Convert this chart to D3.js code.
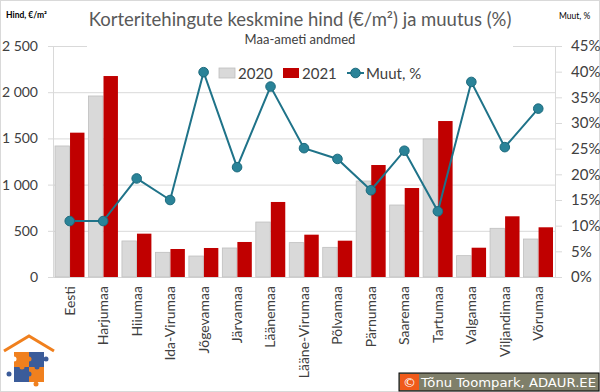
<!DOCTYPE html>
<html>
<head>
<meta charset="utf-8">
<title>Korteritehingute keskmine hind</title>
<style>
  body { margin: 0; background: #fff; }
  svg text { font-family: Lato, "Open Sans", sans-serif; }
</style>
</head>
<body>
<svg width="600" height="392"></svg>
<script src="https://d3js.org/d3.v7.min.js"></script>
<script>
var categories = ["Eesti", "Harjumaa", "Hiiumaa", "Ida-Virumaa", "Jõgevamaa", "Järvamaa", "Läänemaa",
  "Lääne-Virumaa", "Põlvamaa", "Pärnumaa", "Saaremaa", "Tartumaa", "Valgamaa", "Viljandimaa", "Võrumaa"];
var price2020 = [1418, 1959, 390, 267, 227, 314, 595, 372, 321, 1039, 779, 1494, 231, 527, 411];
var price2021 = [1562, 2175, 469, 303, 314, 379, 812, 458, 393, 1212, 963, 1688, 317, 657, 538];
var change = [10.9, 10.9, 19.2, 15.0, 39.9, 21.4, 37.1, 25.1, 23.0, 16.9, 24.6, 12.8, 38.0, 25.3, 32.8];
var leftTicks = [0, 500, 1000, 1500, 2000, 2500];
var rightTicks = [0, 5, 10, 15, 20, 25, 30, 35, 40, 45];

var svg = d3.select("svg"),
    width = +svg.attr("width"),
    height = +svg.attr("height");

var pLeft = 53, pRight = 555, pTop = 46, pBottom = 277;

var x = d3.scaleBand().domain(categories).range([pLeft, pRight]);
var x1 = d3.scaleBand().domain(["2020", "2021"]).range([2, x.bandwidth() - 2]).paddingInner(0.04);
var y = d3.scaleLinear().domain([0, 2500]).range([pBottom, pTop]);
var y2 = d3.scaleLinear().domain([0, 45]).range([pBottom, pTop]);

// outer frame
svg.append("rect").attr("x", 0.5).attr("y", 0.5).attr("width", width - 1).attr("height", height - 1)
  .attr("fill", "#fff").attr("stroke", "#d9d9d9");

// gridlines + left axis
var yAxis = d3.axisLeft(y).tickValues(leftTicks).tickSize(5).tickPadding(10)
  .tickFormat(function(d) { return d3.format(",")(d).replace(",", " "); });
var gY = svg.append("g").attr("transform", "translate(" + pLeft + ",0)").call(yAxis);
gY.select(".domain").attr("stroke", "#d9d9d9").attr("d", "M0.5," + pTop + "V" + pBottom);
gY.selectAll(".tick line").attr("stroke", "#d9d9d9").attr("x1", -5).attr("x2", pRight - pLeft);
gY.selectAll(".tick text").attr("fill", "#404040").style("font-size", "14px");

// right axis
var yAxis2 = d3.axisRight(y2).tickValues(rightTicks).tickSize(7).tickPadding(9)
  .tickFormat(function(d) { return d + "%"; });
var gY2 = svg.append("g").attr("transform", "translate(" + pRight + ",0)").call(yAxis2);
gY2.select(".domain").attr("stroke", "#d9d9d9").attr("d", "M0.5," + pTop + "V" + pBottom);
gY2.selectAll(".tick line").attr("stroke", "#d9d9d9");
gY2.selectAll(".tick text").attr("fill", "#404040").style("font-size", "15px");

// bottom axis
var xAxis = d3.axisBottom(x).tickSize(0).tickPadding(6);
var gX = svg.append("g").attr("transform", "translate(0," + pBottom + ")").call(xAxis);
gX.select(".domain").attr("stroke", "#d9d9d9");
gX.selectAll(".tick text")
  .attr("fill", "#404040")
  .style("font-size", "14px")
  .attr("text-anchor", "end")
  .attr("transform", "rotate(-90)")
  .attr("x", -9).attr("y", 0).attr("dy", "0.35em");

// white behind the title area, interrupts the top gridline
svg.append("rect").attr("x", 87).attr("y", 30).attr("width", 426).attr("height", 18).attr("fill", "#fff");

// bars
var g = svg.append("g");
g.selectAll(".b20").data(categories).enter().append("rect")
  .attr("x", function(d) { return x(d) + x1("2020"); })
  .attr("y", function(d, i) { return y(price2020[i]); })
  .attr("width", x1.bandwidth())
  .attr("height", function(d, i) { return pBottom - y(price2020[i]); })
  .attr("fill", "#d9d9d9").attr("stroke", "#bfbfbf").attr("stroke-width", 0.8);
g.selectAll(".b21").data(categories).enter().append("rect")
  .attr("x", function(d) { return x(d) + x1("2021"); })
  .attr("y", function(d, i) { return y(price2021[i]); })
  .attr("width", x1.bandwidth())
  .attr("height", function(d, i) { return pBottom - y(price2021[i]); })
  .attr("fill", "#c00000");

// change line
var line = d3.line()
  .x(function(d, i) { return x(categories[i]) + x.bandwidth() / 2; })
  .y(function(d) { return y2(d); });
g.append("path").datum(change).attr("d", line)
  .attr("fill", "none").attr("stroke", "#1f7389").attr("stroke-width", 2);
g.selectAll(".dot").data(change).enter().append("circle")
  .attr("cx", function(d, i) { return x(categories[i]) + x.bandwidth() / 2; })
  .attr("cy", function(d) { return y2(d); })
  .attr("r", 4.8)
  .attr("fill", "#2a8398").attr("stroke", "#1c6a7d").attr("stroke-width", 1);

// titles
svg.append("text").attr("x", 300).attr("y", 26).attr("text-anchor", "middle")
  .attr("fill", "#595959").style("font-size", "18.5px")
  .text("Korteritehingute keskmine hind (€/m²) ja muutus (%)");
svg.append("text").attr("x", 300).attr("y", 44).attr("text-anchor", "middle")
  .attr("fill", "#404040").style("font-size", "13px").text("Maa-ameti andmed");
svg.append("text").attr("x", 6).attr("y", 18).attr("fill", "#000")
  .style("font-size", "8.5px").style("font-weight", "bold").text("Hind, €/m²");
svg.append("text").attr("x", 559).attr("y", 19).attr("fill", "#000")
  .style("font-size", "8.5px").text("Muut, %");

// legend
var lg = svg.append("g").style("font-size", "15px").attr("fill", "#404040");
lg.append("rect").attr("x", 219).attr("y", 68).attr("width", 16).attr("height", 10)
  .attr("fill", "#d9d9d9").attr("stroke", "#bfbfbf").attr("stroke-width", 0.8);
lg.append("text").attr("x", 238).attr("y", 78.5).text("2020");
lg.append("rect").attr("x", 283).attr("y", 68).attr("width", 16).attr("height", 10).attr("fill", "#c00000");
lg.append("text").attr("x", 302).attr("y", 78.5).text("2021");
lg.append("line").attr("x1", 347).attr("x2", 364).attr("y1", 73).attr("y2", 73)
  .attr("stroke", "#1f7389").attr("stroke-width", 2);
lg.append("circle").attr("cx", 355.5).attr("cy", 73).attr("r", 4.8)
  .attr("fill", "#2a8398").attr("stroke", "#1c6a7d");
lg.append("text").attr("x", 366).attr("y", 78.5).text("Muut, %");

// logo (puzzle house)
var logo = svg.append("g").attr("transform", "translate(2,335)");
logo.append("path").attr("d", "M2,16 L27,1 L52,16").attr("fill", "none")
  .attr("stroke", "#f0801e").attr("stroke-width", 3);
var pieces = [[12, 17, "#f0801e"], [27, 17, "#3b5c9a"], [12, 32, "#3b5c9a"], [27, 32, "#f0801e"]];
logo.selectAll(".p").data(pieces).enter().append("rect")
  .attr("x", function(d) { return d[0]; }).attr("y", function(d) { return d[1]; })
  .attr("width", 15).attr("height", 15).attr("fill", function(d) { return d[2]; });
var knobs = [[27, 24, "#f0801e"], [20, 32, "#f0801e"], [35, 32, "#3b5c9a"], [27, 39, "#3b5c9a"],
  [12, 24, "#fff"], [44, 24, "#3b5c9a"], [7, 39, "#3b5c9a"], [34, 49, "#f0801e"]];
logo.selectAll(".k").data(knobs).enter().append("circle")
  .attr("cx", function(d) { return d[0]; }).attr("cy", function(d) { return d[1]; })
  .attr("r", 2.5).attr("fill", function(d) { return d[2]; });

// copyright box
var cp = svg.append("g").attr("transform", "translate(399,373)");
cp.append("rect").attr("width", 200).attr("height", 18).attr("fill", "#7f7f6a").attr("stroke", "#000");
cp.append("rect").attr("x", 1).attr("y", 1).attr("width", 19).attr("height", 16).attr("fill", "#f05a1a");
cp.append("text").attr("x", 10.5).attr("y", 14).attr("text-anchor", "middle").attr("fill", "#fff")
  .style("font-family", "'DejaVu Sans', sans-serif").style("font-size", "13px").text("©");
cp.append("text").attr("x", 22).attr("y", 14).attr("fill", "#fff")
  .style("font-family", "'DejaVu Sans', sans-serif").style("font-size", "12.5px")
  .attr("textLength", 175).attr("lengthAdjust", "spacingAndGlyphs")
  .text("Tõnu Toompark, ADAUR.EE");
</script>
</body>
</html>
